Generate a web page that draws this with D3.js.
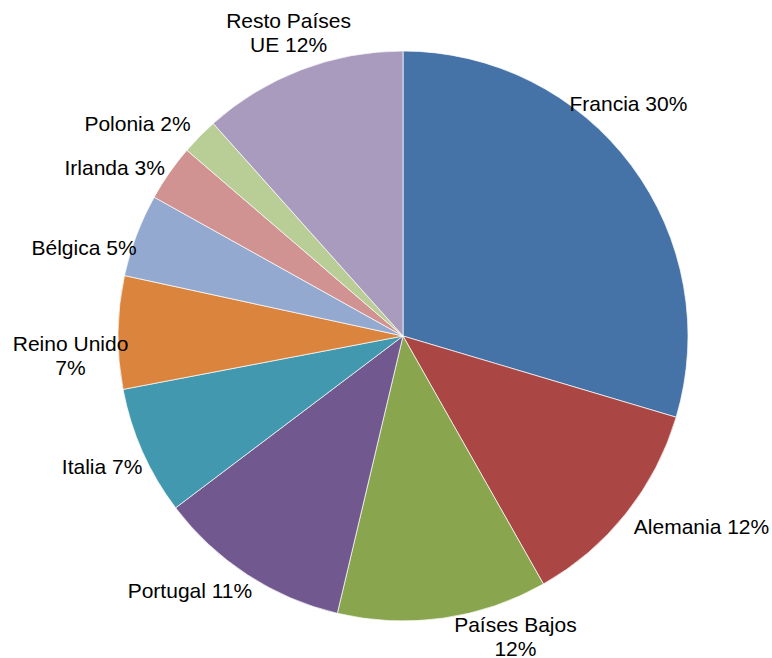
<!DOCTYPE html>
<html lang="es">
	<head>
		<meta charset="utf-8">
		<title>Exportaciones por país</title>
		<script type="text/javascript" src="https://cdn.jsdelivr.net/npm/d3@7"></script>
		<style type="text/css">
			body { margin: 0; background: #fff; }
			svg text {
				font-family: "Liberation Sans", Arial, sans-serif;
				font-size: 21px;
				fill: #000;
			}
		</style>
	</head>
	<body>
		<script type="text/javascript">
			// datos
			var paises = ["Francia", "Alemania", "Países Bajos", "Portugal", "Italia",
						  "Reino Unido", "Bélgica", "Irlanda", "Polonia", "Resto Países UE"];
			var valores = [29.6, 12.2, 11.9, 11.0, 7.3, 6.4, 4.7, 3.2, 2.1, 11.6];
			// texto de las etiquetas tal como aparecen (saltos de línea con |)
			var etiquetas = ["Francia 30%", "Alemania 12%", "Países Bajos|12%", "Portugal 11%", "Italia 7%",
							 "Reino Unido|7%", "Bélgica 5%", "Irlanda 3%", "Polonia 2%", "Resto Países|UE 12%"];
			var colores = ["#4572A7", "#AA4643", "#89A54E", "#71588F", "#4198AF",
						   "#DB843D", "#93A9CF", "#D19392", "#B9CD96", "#A99BBD"];

			// ajustes de posición de etiquetas (grados y px respecto al centro de la porción)
			var ajusteAngulo = [-9.2, -6, -12.4, 6.8, 0.5, -4, -5.2, -4.6, -5.8, 0.2];
			var ajusteRadio = [-6, 24, -9, 2, -2, 3, 1, 4, 10, -6];

			var w = 772, h = 658;
			var cx = 403, cy = 336, r = 285;
			var rLabel = 330;
			var lineH = 24;

			var svg = d3.select("body")
						.append("svg")
						.attr("width", w)
						.attr("height", h);

			var pie = d3.pie()
						.sort(null)
						.value(function(d) { return d; });

			var arc = d3.arc()
						.innerRadius(0)
						.outerRadius(r);

			var arcs = pie(valores);

			var g = svg.append("g")
					   .attr("transform", "translate(" + cx + "," + cy + ")");

			g.selectAll("path")
			 .data(arcs)
			 .enter()
			 .append("path")
			 .attr("d", arc)
			 .attr("fill", function(d, i) { return colores[i]; })
			 .attr("stroke", "#fff")
			 .attr("stroke-width", 0.7);

			var labels = g.selectAll("text")
						  .data(arcs)
						  .enter()
						  .append("text")
						  .attr("text-anchor", "middle")
						  .attr("transform", function(d, i) {
								var a = (d.startAngle + d.endAngle) / 2 + ajusteAngulo[i] * Math.PI / 180;
								var dist = rLabel + ajusteRadio[i];
								return "translate(" + (Math.sin(a) * dist) + "," + (-Math.cos(a) * dist) + ")";
						  });

			labels.each(function(d, i) {
				var lines = etiquetas[i].split("|");
				var y0 = 7.5 - (lines.length - 1) * lineH / 2;
				d3.select(this).selectAll("tspan")
				  .data(lines)
				  .enter()
				  .append("tspan")
				  .attr("x", 0)
				  .attr("y", function(t, j) { return y0 + j * lineH; })
				  .text(function(t) { return t; });
			});
		</script>
	</body>
</html>
